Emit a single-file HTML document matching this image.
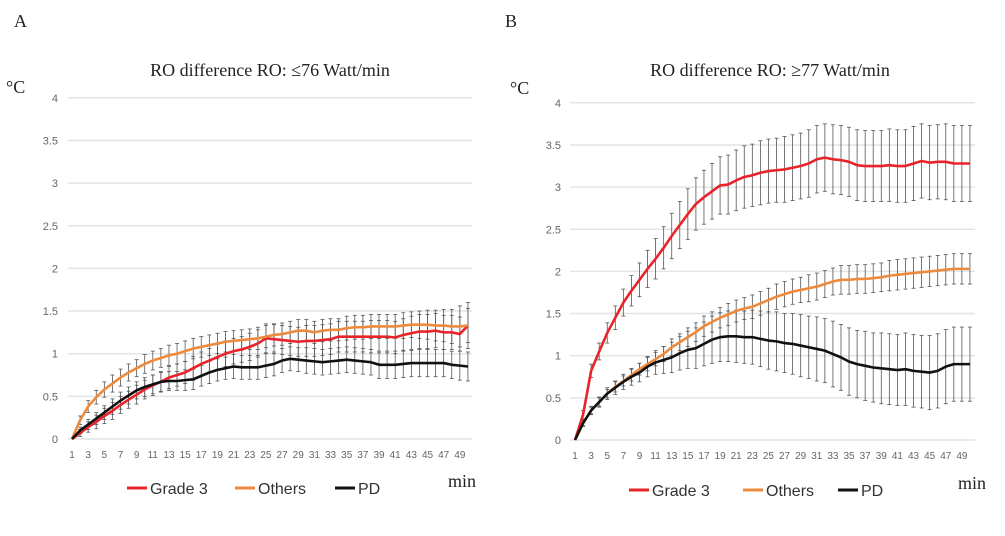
<!DOCTYPE html>
<html><head><meta charset="utf-8"><style>
body{margin:0;background:#fff;}
svg{display:block;}
.tk{font-family:"Liberation Sans",sans-serif;font-size:11px;fill:#666;}
.xt{font-family:"Liberation Sans",sans-serif;font-size:10px;fill:#666;}
.tt{font-family:"Liberation Serif",serif;font-size:18px;fill:#222;}
.lg{font-family:"Liberation Sans",sans-serif;font-size:16px;fill:#333;}
</style></head><body>
<svg id="chart" width="1005" height="536" viewBox="0 0 1005 536"></svg>
<script>
const minutes = Array.from({length:50},(_,i)=>i+1);
const yTicks = [0,0.5,1,1.5,2,2.5,3,3.5,4];
const yTickLabels = ["0","0.5","1","1.5","2","2.5","3","3.5","4"];
const seriesNames = ["Grade 3","Others","PD"];
const aGrade3 = [0,.07,.14,.2,.27,.33,.4,.46,.52,.58,.63,.67,.72,.75,.78,.83,.88,.92,.96,1.0,1.03,1.05,1.08,1.12,1.18,1.17,1.16,1.15,1.14,1.15,1.15,1.16,1.17,1.2,1.2,1.2,1.2,1.2,1.2,1.2,1.19,1.22,1.24,1.26,1.26,1.27,1.25,1.25,1.23,1.33];
const aOthers = [0,.22,.38,.49,.58,.65,.72,.78,.83,.88,.92,.95,.98,1.0,1.03,1.06,1.08,1.1,1.12,1.14,1.15,1.16,1.17,1.18,1.2,1.22,1.23,1.25,1.27,1.27,1.25,1.27,1.28,1.28,1.3,1.31,1.31,1.32,1.32,1.32,1.32,1.33,1.34,1.34,1.34,1.33,1.33,1.32,1.32,1.33];
const aPD = [0,.1,.17,.24,.31,.38,.45,.51,.57,.61,.64,.67,.68,.68,.69,.7,.74,.78,.81,.83,.85,.84,.84,.84,.86,.88,.92,.94,.93,.92,.91,.9,.91,.92,.93,.92,.91,.9,.87,.87,.87,.88,.89,.89,.89,.89,.89,.87,.86,.85];
const aGrade3Err = [0,.04,.06,.08,.09,.1,.1,.1,.11,.11,.12,.12,.13,.13,.13,.14,.14,.14,.15,.15,.15,.15,.16,.16,.17,.17,.17,.17,.17,.18,.18,.18,.18,.18,.18,.18,.18,.19,.19,.19,.19,.19,.2,.2,.2,.2,.2,.2,.2,.2];
const aOthersErr = [0,.05,.07,.08,.09,.1,.1,.1,.1,.11,.11,.11,.12,.12,.12,.12,.12,.12,.12,.12,.12,.12,.12,.13,.13,.13,.13,.13,.13,.13,.13,.13,.13,.13,.14,.14,.14,.14,.14,.14,.14,.15,.15,.16,.17,.18,.19,.2,.24,.27];
const aPDErr = [0,.04,.06,.07,.08,.09,.1,.1,.1,.11,.11,.11,.11,.11,.12,.12,.12,.13,.13,.13,.14,.14,.14,.14,.14,.14,.14,.14,.14,.15,.15,.15,.15,.15,.15,.15,.15,.15,.16,.16,.16,.16,.16,.16,.16,.16,.16,.16,.17,.17];
const bGrade3 = [0,.3,.82,1.05,1.27,1.45,1.63,1.77,1.9,2.03,2.15,2.28,2.42,2.55,2.68,2.8,2.88,2.95,3.02,3.03,3.08,3.12,3.14,3.17,3.19,3.2,3.21,3.23,3.25,3.28,3.33,3.35,3.33,3.32,3.3,3.26,3.25,3.25,3.25,3.26,3.25,3.25,3.28,3.31,3.29,3.3,3.3,3.28,3.28,3.28];
const bOthers = [0,.2,.35,.45,.55,.63,.7,.77,.84,.9,.96,1.02,1.1,1.16,1.22,1.28,1.35,1.4,1.45,1.49,1.53,1.56,1.58,1.62,1.66,1.7,1.73,1.76,1.78,1.8,1.82,1.85,1.88,1.9,1.9,1.91,1.91,1.92,1.93,1.95,1.96,1.97,1.98,1.99,2.0,2.01,2.02,2.03,2.03,2.03];
const bPD = [0,.2,.35,.45,.55,.62,.69,.75,.8,.87,.92,.95,.98,1.03,1.07,1.09,1.14,1.19,1.22,1.23,1.23,1.22,1.22,1.2,1.18,1.17,1.15,1.14,1.12,1.1,1.08,1.06,1.02,.98,.93,.9,.88,.86,.85,.84,.83,.84,.82,.81,.8,.82,.87,.9,.9,.9];
const bGrade3Err = [0,.05,.08,.1,.12,.14,.16,.18,.2,.22,.24,.25,.27,.28,.3,.31,.32,.33,.34,.35,.36,.37,.37,.38,.38,.38,.39,.39,.39,.4,.4,.4,.41,.41,.41,.42,.42,.42,.42,.43,.43,.43,.44,.44,.44,.44,.45,.45,.45,.45];
const bOthersErr = [0,.03,.04,.05,.05,.06,.06,.07,.07,.08,.08,.09,.1,.1,.11,.11,.12,.12,.12,.13,.13,.13,.14,.14,.14,.15,.15,.15,.15,.16,.16,.16,.16,.17,.17,.17,.17,.17,.17,.18,.18,.18,.18,.18,.18,.18,.18,.18,.18,.18];
const bPDErr = [0,.04,.05,.06,.07,.08,.09,.1,.11,.12,.14,.16,.18,.2,.22,.24,.26,.28,.29,.3,.31,.31,.32,.33,.34,.35,.35,.36,.37,.37,.38,.38,.39,.39,.4,.4,.41,.41,.42,.42,.42,.43,.43,.43,.44,.44,.44,.44,.44,.44];

const NS="http://www.w3.org/2000/svg";
const svg=document.getElementById('chart');
function mk(tag,attrs,parent){const e=document.createElementNS(NS,tag);for(const k in attrs)e.setAttribute(k,attrs[k]);(parent||svg).appendChild(e);return e;}
const colors=["#e8232a","#ee8a3c","#111111"];

function panel(p){
  const g=mk('g',{});
  
  
  const xS=m=>p.x0+(m-1)*p.dx;
  const yS=v=>p.y0-v*p.dy;
  const lab=mk('text',{x:p.labX,y:27,class:'tt','font-size':'16'},g);lab.textContent=p.id.toUpperCase();
  
  
  const t=mk('text',{x:p.tx,y:76,class:'tt','text-anchor':'middle'},g);t.textContent=p.title;
  
  
  const u=mk('text',{x:p.ux,y:p.uy,class:'tt','font-size':'14'},g);u.textContent='°C';
  
  
  yTicks.forEach((v,i)=>{
    const l=mk('line',{x1:p.gx1,x2:p.gx2,y1:yS(v),y2:yS(v),stroke:'#e4e4e4','stroke-width':1.5},g);
    
    
    const tx=mk('text',{x:p.x0-14,y:yS(v)+4,class:'tk','text-anchor':'end'},g);tx.textContent=yTickLabels[i];
    
    
  });
  minutes.forEach(m=>{ if(m%2===1){
    const tx=mk('text',{x:xS(m),y:p.y0+19,class:'xt','text-anchor':'middle'},g);tx.textContent=m;
    
    
  }});
  p.series.forEach((s,si)=>{
    const eg=mk('g',{stroke:'#555','stroke-width':0.8},g);
    
    
    s.v.forEach((v,i)=>{ if(i===0)return; const x=xS(minutes[i]);const e=s.e[i];
      mk('line',{x1:x,x2:x,y1:yS(v-e),y2:yS(v+e)},eg);
      mk('line',{x1:x-2,x2:x+2,y1:yS(v-e),y2:yS(v-e)},eg);
      mk('line',{x1:x-2,x2:x+2,y1:yS(v+e),y2:yS(v+e)},eg);
    });
  });
  p.series.forEach((s,si)=>{
    const pl=mk('polyline',{points:s.v.map((v,i)=>xS(minutes[i])+','+yS(v)).join(' '),fill:'none',stroke:colors[si],'stroke-width':2.6,'stroke-linejoin':'round'},g);
    
    
  });
  p.leg.forEach((lx,i)=>{
    const lg=mk('g',{},g);
    
    
    mk('line',{x1:lx,x2:lx+20,y1:p.ly,y2:p.ly,stroke:colors[i],'stroke-width':3},lg);
    const tx=mk('text',{x:lx+23,y:p.ly+6,class:'lg'},lg);tx.textContent=seriesNames[i];
  });
  const mn=mk('text',{x:p.mx,y:p.my,class:'tt','font-size':'18'},g);mn.textContent='min';
  
  
}
panel({id:'a',x0:72,dx:8.08,y0:439,dy:85.3,gx1:68,gx2:472,labX:14,tx:270,title:'RO difference RO: ≤76 Watt/min',ux:6,uy:93,
  series:[{v:aGrade3,e:aGrade3Err},{v:aOthers,e:aOthersErr},{v:aPD,e:aPDErr}],leg:[127,235,335],ly:488,mx:448,my:487});
panel({id:'b',x0:575,dx:8.06,y0:440,dy:84.3,gx1:570,gx2:975,labX:505,tx:770,title:'RO difference RO: ≥77 Watt/min',ux:510,uy:94,
  series:[{v:bGrade3,e:bGrade3Err},{v:bOthers,e:bOthersErr},{v:bPD,e:bPDErr}],leg:[629,743,838],ly:490,mx:958,my:489});
</script>
</body></html>
